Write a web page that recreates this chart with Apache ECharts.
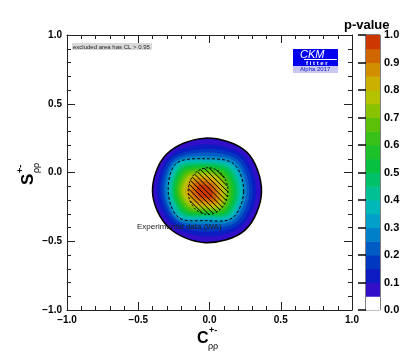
<!DOCTYPE html>
<html>
<head>
<meta charset="utf-8">
<script src="https://cdn.jsdelivr.net/npm/echarts@6/dist/echarts.min.js"></script>
<style>
html,body{margin:0;padding:0;background:#fff}
#chart{width:414px;height:361px}
</style>
</head>
<body>
<div id="chart"></div>
<script>
// p-value contours: radius (in C/S units) read along 8 directions from the peak
var peak = [-0.03, -0.14];
var directions = [0, 45, 90, 135, 180, 225, 270, 315];
var levels = [0.05, 0.10, 0.15, 0.20, 0.25, 0.30, 0.35, 0.40, 0.45, 0.50,
              0.55, 0.60, 0.65, 0.70, 0.75, 0.80, 0.85, 0.90, 0.95];
var levelRadii = [
  [0.395, 0.41, 0.39, 0.385, 0.37, 0.365, 0.37, 0.395],
  [0.36, 0.375, 0.345, 0.36, 0.34, 0.335, 0.325, 0.36],
  [0.335, 0.35, 0.31, 0.34, 0.315, 0.31, 0.29, 0.335],
  [0.31, 0.325, 0.285, 0.32, 0.295, 0.29, 0.26, 0.31],
  [0.29, 0.305, 0.262, 0.305, 0.28, 0.28, 0.235, 0.29],
  [0.275, 0.29, 0.245, 0.295, 0.267, 0.27, 0.217, 0.275],
  [0.26, 0.272, 0.23, 0.28, 0.255, 0.255, 0.2, 0.26],
  [0.245, 0.255, 0.217, 0.265, 0.243, 0.24, 0.188, 0.245],
  [0.23, 0.238, 0.205, 0.25, 0.232, 0.226, 0.177, 0.23],
  [0.215, 0.22, 0.193, 0.235, 0.222, 0.212, 0.167, 0.216],
  [0.2, 0.205, 0.181, 0.22, 0.21, 0.198, 0.157, 0.203],
  [0.185, 0.19, 0.17, 0.205, 0.2, 0.185, 0.148, 0.19],
  [0.17, 0.173, 0.158, 0.19, 0.188, 0.171, 0.138, 0.177],
  [0.155, 0.156, 0.145, 0.175, 0.175, 0.157, 0.128, 0.164],
  [0.14, 0.138, 0.132, 0.16, 0.16, 0.142, 0.117, 0.15],
  [0.122, 0.12, 0.116, 0.142, 0.143, 0.125, 0.104, 0.134],
  [0.102, 0.1, 0.098, 0.122, 0.122, 0.106, 0.089, 0.116],
  [0.08, 0.077, 0.077, 0.098, 0.097, 0.083, 0.071, 0.094],
  [0.052, 0.05, 0.05, 0.066, 0.064, 0.055, 0.047, 0.064]
];
// 68% CL contour (dashed)
var dashedRadii = [0.27, 0.285, 0.24, 0.29, 0.26, 0.265, 0.21, 0.27];

// experimental world average, 1 sigma region (hatched)
var expCenter = [-0.01, -0.135];
var expError = [0.14, 0.17];

// colour palette
var paletteValues = [0.05, 0.10, 0.15, 0.20, 0.25, 0.30, 0.35, 0.40, 0.45, 0.50,
                     0.55, 0.60, 0.65, 0.70, 0.75, 0.80, 0.85, 0.90, 0.95, 1.00];
var paletteColors = ['#4a0ccc', '#1a10c4', '#0028c0', '#0048c0', '#0070c8', '#0090c8', '#00b0c8', '#00c0a8', '#00c080', '#00c050',
                     '#10c030', '#28c020', '#48c010', '#70c000', '#a0c400', '#c8c000', '#d0a000', '#d07c00', '#d05000', '#c82000'];
var barSteps = [0, 0.05, 0.10, 0.15, 0.20, 0.25, 0.30, 0.35, 0.40, 0.45,
                0.50, 0.55, 0.60, 0.65, 0.70, 0.75, 0.80, 0.85, 0.90, 0.95];

var FONT = '"Liberation Sans", Arial, Helvetica, sans-serif';

function hex2rgb(h){
	return [parseInt(h.substr(1,2),16), parseInt(h.substr(3,2),16), parseInt(h.substr(5,2),16)];
}
function colorAt(v){
	if(v < paletteValues[0]) return '#ffffff';
	for(var i=0;i<paletteValues.length-1;i++){
		if(v <= paletteValues[i+1]){
			var t=(v-paletteValues[i])/(paletteValues[i+1]-paletteValues[i]);
			var a=hex2rgb(paletteColors[i]), b=hex2rgb(paletteColors[i+1]);
			return 'rgb('+Math.round(a[0]+(b[0]-a[0])*t)+','+Math.round(a[1]+(b[1]-a[1])*t)+','+Math.round(a[2]+(b[2]-a[2])*t)+')';
		}
	}
	return paletteColors[paletteColors.length-1];
}
function ringPoints(api, radii){
	var pts=[];
	for(var k=0;k<directions.length;k++){
		var a=directions[k]*Math.PI/180;
		pts.push(api.coord([peak[0]+radii[k]*Math.cos(a), peak[1]+radii[k]*Math.sin(a)]));
	}
	return pts;
}
// closed smooth curve through the contour points (Catmull-Rom as cubic Bezier)
function smoothPath(p){
	var n=p.length, f=function(v){return v.toFixed(2);};
	var d='M'+f(p[0][0])+' '+f(p[0][1]);
	for(var i=0;i<n;i++){
		var p0=p[(i-1+n)%n], p1=p[i], p2=p[(i+1)%n], p3=p[(i+2)%n];
		d+=' C'+f(p1[0]+(p2[0]-p0[0])/6)+' '+f(p1[1]+(p2[1]-p0[1])/6)+' '+
			f(p2[0]-(p3[0]-p1[0])/6)+' '+f(p2[1]-(p3[1]-p1[1])/6)+' '+
			f(p2[0])+' '+f(p2[1]);
	}
	return d+' Z';
}
function numLabel(v){
	return (v<0?'\u2212':'')+Math.abs(v).toFixed(1);
}

function frameAxis(pos, labels){
	return {
		type:'value', position:pos, min:-1, max:1, interval:0.5,
		gridIndex:0,
		axisLine:{show:true, onZero:false, lineStyle:{color:'#222', width:1}},
		axisTick:{show:true, inside:true, length:8, lineStyle:{color:'#222', width:1}},
		minorTick:{show:true, splitNumber:5, length:4, lineStyle:{color:'#222', width:1}},
		splitLine:{show:false},
		axisLabel:{show:labels, formatter:numLabel, color:'#000', fontWeight:'bold', fontSize:10, fontFamily:FONT, margin:5}
	};
}

var chart=echarts.init(document.getElementById('chart'));
var option={
	animation:false,
	backgroundColor:'#fff',
	grid:[
		{left:67, top:35, width:285, height:275},
		{left:366, top:35, width:14, height:275, show:true, borderColor:'#000', borderWidth:1, backgroundColor:'transparent'}
	],
	xAxis:[
		frameAxis('bottom', true),
		frameAxis('top', false),
		{type:'value', gridIndex:1, min:0, max:1, show:false}
	],
	yAxis:[
		frameAxis('left', true),
		frameAxis('right', false),
		{
			type:'value', gridIndex:1, position:'right', min:0, max:1, interval:0.1,
			axisLine:{show:false},
			axisTick:{show:true, inside:true, length:8, lineStyle:{color:'#000', width:1.5}},
			splitLine:{show:false},
			axisLabel:{formatter:function(v){return v.toFixed(1);}, color:'#000', fontWeight:'bold', fontSize:11, fontFamily:FONT, margin:4}
		}
	],
	series:[
		{
			type:'custom', xAxisIndex:0, yAxisIndex:0, silent:true, clip:true, z:2,
			data:levels.map(function(L,i){return [L,i];}),
			renderItem:function(params, api){
				var i=params.dataIndex;
				var L=levels[i];
				var top=i+1<levels.length?levels[i+1]:1;
				return {
					type:'path',
					shape:{pathData:smoothPath(ringPoints(api, levelRadii[i]))},
					style:{fill:colorAt((L+top)/2), stroke:i===0?'#000':null, lineWidth:i===0?1.5:0}
				};
			}
		},
		{
			type:'custom', xAxisIndex:0, yAxisIndex:0, silent:true, clip:true, z:3,
			data:[[0.32,0]],
			renderItem:function(params, api){
				return {
					type:'path',
					shape:{pathData:smoothPath(ringPoints(api, dashedRadii))},
					style:{fill:'none', stroke:'#000', lineWidth:1, lineDash:[3,2]}
				};
			}
		},
		{
			type:'custom', xAxisIndex:0, yAxisIndex:0, silent:true, clip:true, z:4,
			data:[expCenter],
			renderItem:function(params, api){
				var c=api.coord(expCenter);
				var rx=api.size([expError[0],0])[0];
				var ry=api.size([0,expError[1]])[1];
				var children=[];
				var outline=[];
				for(var k=0;k<72;k++){
					var a=k/72*2*Math.PI;
					outline.push([c[0]+rx*Math.cos(a), c[1]+ry*Math.sin(a)]);
				}
				var step=5.2;
				for(var d=-(rx+ry); d<=rx+ry; d+=step){
					var A=1/(rx*rx)+1/(ry*ry), B=2*d/(rx*rx), C=d*d/(rx*rx)-1;
					var disc=B*B-4*A*C;
					if(disc<=0) continue;
					var v1=(-B-Math.sqrt(disc))/(2*A), v2=(-B+Math.sqrt(disc))/(2*A);
					children.push({type:'line', shape:{x1:c[0]+v1+d, y1:c[1]+v1, x2:c[0]+v2+d, y2:c[1]+v2}, style:{stroke:'#000', lineWidth:1}});
				}
				children.push({type:'polygon', shape:{points:outline}, style:{fill:'none', stroke:'#000', lineWidth:1, lineDash:[2,2]}});
				return {type:'group', children:children};
			}
		},
		{
			type:'custom', xAxisIndex:2, yAxisIndex:2, silent:true, z:2,
			data:barSteps.map(function(s){return [0.5,s];}),
			renderItem:function(params, api){
				var s=barSteps[params.dataIndex];
				var p0=api.coord([0,s]);
				var p1=api.coord([1,s+0.05]);
				return {
					type:'rect',
					shape:{x:p0[0], y:p1[1], width:p1[0]-p0[0], height:p0[1]-p1[1]+0.5},
					style:{fill:colorAt(s+0.025)}
				};
			}
		}
	],
	graphic:[
		{type:'rect', left:72, top:43, z:100, shape:{width:80, height:7}, style:{fill:'#d9d9d9'}},
		{type:'text', left:73, top:44, z:101, style:{text:'excluded area has CL > 0.95', font:'6px '+FONT, fill:'#222'}},
		{type:'rect', left:293, top:49, z:100, shape:{width:45, height:17}, style:{fill:'#0000ee'}},
		{type:'text', left:300, top:49, z:101, style:{text:'CKM', font:'italic 11px '+FONT, fill:'#fff'}},
		{type:'rect', left:304, top:59, z:101, shape:{width:33, height:1}, style:{fill:'#fff'}},
		{type:'text', left:306, top:60, z:101, style:{text:'f i t t e r', font:'bold 6px '+FONT, fill:'#fff'}},
		{type:'rect', left:293, top:66, z:100, shape:{width:45, height:7}, style:{fill:'#c8c8f2'}},
		{type:'text', left:300, top:66.5, z:101, style:{text:'Alpha 2017', font:'6px '+FONT, fill:'#2020c0'}},
		{type:'text', left:344, top:19, z:100, style:{text:'p-value', font:'bold 13px '+FONT, fill:'#000'}},
		{type:'text', left:137, top:223, z:100, style:{text:'Experimental data (WA)', font:'8px '+FONT, fill:'#222'}},
		{type:'text', left:197, top:331, z:100, style:{text:'C', font:'bold 16px '+FONT, fill:'#000'}},
		{type:'text', left:209, top:326, z:100, style:{text:'+-', font:'bold 9px '+FONT, fill:'#000'}},
		{type:'text', left:208, top:342, z:100, style:{text:'\u03c1\u03c1', font:'9px '+FONT, fill:'#000'}},
		{
			type:'group', x:20, y:185, rotation:Math.PI/2, z:100,
			children:[
				{type:'text', x:0, y:0, style:{text:'S', font:'bold 17px '+FONT, fill:'#000'}},
				{type:'text', x:12, y:-4, style:{text:'+-', font:'bold 9px '+FONT, fill:'#000'}},
				{type:'text', x:12, y:12, style:{text:'\u03c1\u03c1', font:'9px '+FONT, fill:'#000'}}
			]
		}
	]
};
chart.setOption(option);
</script>
</body>
</html>
